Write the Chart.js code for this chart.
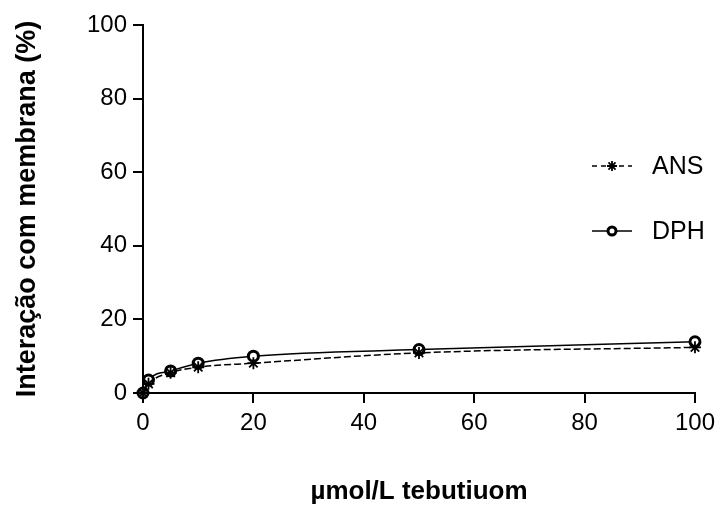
<!DOCTYPE html>
<html>
<head>
<meta charset="utf-8">
<script src="https://cdn.jsdelivr.net/npm/chart.js@4.4.1/dist/chart.umd.min.js"></script>
<style>
  html,body{margin:0;padding:0;background:#fff;}
  #wrap{width:721px;height:509px;}
</style>
</head>
<body>
<div id="wrap"><canvas id="chart" width="721" height="509"></canvas></div>
<script>
// concentrations (µmol/L) and interaction values (%)
const conc = [0, 1, 5, 10, 20, 50, 100];
const ansValues = [0, 2.5, 5.5, 7, 8.1, 10.9, 12.4];
const dphValues = [0, 3.5, 6, 8.1, 10, 11.8, 13.9];
const xTicks = [0, 20, 40, 60, 80, 100];
const yTicks = [0, 20, 40, 60, 80, 100];

const FONT = '"Liberation Sans", Arial, sans-serif';

function pts(vals){ return conc.map((c,i)=>({x:c, y:vals[i]})); }

// legend drawn inside plot, like the original figure
const innerLegend = {
  id:'innerLegend',
  afterDraw(chart){
    const ctx = chart.ctx;
    const rows = [{ds:0, y:166, dash:[5,4]}, {ds:1, y:231, dash:[]}];
    rows.forEach(r=>{
      const ds = chart.data.datasets[r.ds];
      ctx.save();
      ctx.strokeStyle = '#000';
      ctx.lineWidth = 1.5;
      ctx.setLineDash(r.dash);
      ctx.beginPath();
      ctx.moveTo(592, r.y); ctx.lineTo(632, r.y);
      ctx.stroke();
      ctx.setLineDash([]);
      ctx.fillStyle = '#fff';
      ctx.lineWidth = ds.pointBorderWidth;
      Chart.helpers.drawPoint(ctx, {pointStyle: ds.pointStyle, radius: r.ds === 0 ? 5 : 4, borderWidth: ds.pointBorderWidth}, 612, r.y);
      ctx.fillStyle = '#000';
      ctx.font = '25px ' + FONT;
      ctx.textBaseline = 'middle';
      ctx.fillText(ds.label, 652, r.y + 1);
      ctx.restore();
    });
  }
};

new Chart(document.getElementById('chart'), {
  type:'line',
  data:{
    datasets:[
      {label:'ANS', data:pts(ansValues), borderColor:'#000', borderWidth:1.5, borderDash:[7,3],
       pointStyle:'star', pointRadius:6, pointBorderWidth:1.8, pointBorderColor:'#000', pointBackgroundColor:'#000',
       cubicInterpolationMode:'monotone', clip:false},
      {label:'DPH', data:pts(dphValues), borderColor:'#000', borderWidth:1.5,
       pointStyle:'circle', pointRadius:5, pointBorderWidth:3, pointBorderColor:'#000', pointBackgroundColor:'#fff',
       cubicInterpolationMode:'monotone', clip:false}
    ]
  },
  options:{
    responsive:false,
    animation:false,
    layout:{padding:{top:25, right:25, left:0, bottom:0}},
    plugins:{legend:{display:false}, tooltip:{enabled:false}},
    scales:{
      x:{
        type:'linear', min:0, max:100,
        afterBuildTicks(s){ s.ticks = xTicks.map(v=>({value:v})); },
        afterFit(s){ s.height = 116; },
        grid:{drawOnChartArea:false, drawTicks:true, tickLength:10, color:'#000', lineWidth:2},
        border:{display:true, color:'#000', width:2},
        ticks:{color:'#000', padding:6, font:{family:FONT, size:24}, maxRotation:0},
        title:{display:true, text:'µmol/L tebutiuom', color:'#000', font:{family:FONT, size:26, weight:'bold'}, padding:{top:0, bottom:2}}
      },
      y:{
        min:0, max:100,
        afterBuildTicks(s){ s.ticks = yTicks.map(v=>({value:v})); },
        afterFit(s){ s.width = 143; },
        grid:{drawOnChartArea:false, drawTicks:true, tickLength:10, color:'#000', lineWidth:2},
        border:{display:true, color:'#000', width:2},
        ticks:{color:'#000', padding:6, font:{family:FONT, size:24}},
        title:{display:true, text:'Interação com membrana (%)', color:'#000', font:{family:FONT, size:27, weight:'bold'}, padding:{top:11, bottom:0}}
      }
    }
  },
  plugins:[innerLegend]
});
</script>
</body>
</html>
